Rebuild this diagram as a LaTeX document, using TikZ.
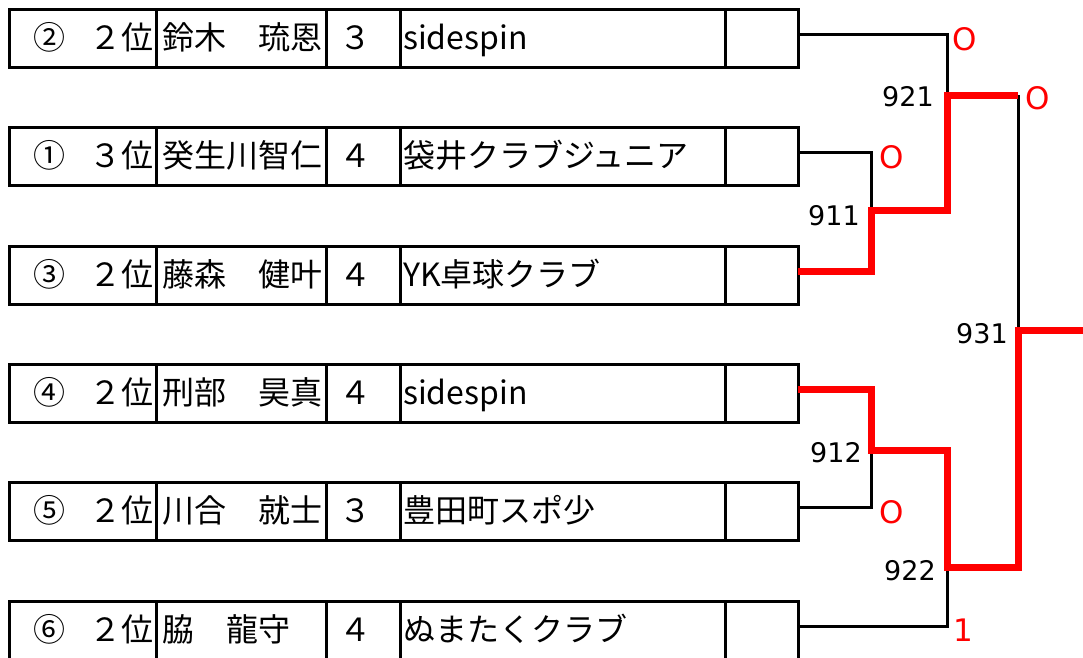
\documentclass[tikz,border=0pt]{standalone}
\usepackage{fontspec}
\setmainfont{Noto Sans CJK JP}
\newfontfamily\numfont{DejaVu Sans}
\usepackage{tikz}
\definecolor{red500}{HTML}{FF0000}
\tikzstyle{cell}=[rectangle, draw=black, line width=3pt, minimum height=58pt, inner sep=0pt, outer sep=0pt, anchor=north west, text height=27pt, text depth=5pt, font=\fontsize{32}{36}\selectfont]
\tikzstyle{loser}=[draw=black, line width=3pt]
\tikzstyle{winner}=[draw=red500, line width=7pt]
\tikzstyle{score}=[text=red500, inner sep=0pt, font=\numfont\fontsize{31}{34}\selectfont]
\tikzstyle{match}=[inner sep=0pt, font=\numfont\fontsize{27}{30}\selectfont]

\begin{document}
\begin{tikzpicture}[x=1pt, y=-1pt]
			\clip (0,0) rectangle (1083,657);
			\foreach \i/\y/\seed/\name/\grade/\team in {
				1/9.5/②/鈴木　琉恩/３/sidespin,
				2/127.8/①/癸生川智仁/４/袋井クラブジュニア,
				3/246/③/藤森　健叶/４/YK卓球クラブ,
				4/364.5/④/刑部　昊真/４/sidespin,
				5/482.7/⑤/川合　就士/３/豊田町スポ少,
				6/601/⑥/脇　龍守/４/ぬまたくクラブ}{
				\node[cell, minimum width=147pt, text width=141pt, align=right] (s\i) at (9.5,\y) {\seed\hspace{24pt}\ifnum\i=2 ３\else ２\fi 位};
				\node[cell, minimum width=169.5pt, text width=157pt, align=left] (n\i) at (156.5,\y) {\name};
				\node[cell, minimum width=74pt, text width=48pt, align=left] (g\i) at (326,\y) {\grade};
				\node[cell, minimum width=325.3pt, text width=319pt, align=left] (t\i) at (400,\y) {\team};
				\node[cell, minimum width=72.7pt] (b\i) at (725.3,\y) {};
			}
			\coordinate (m911) at (871,210);
			\coordinate (m912) at (871,450);
			\coordinate (m921) at (947,95);
			\coordinate (m922) at (947,567);
			\coordinate (m931) at (1018,330);
			\coordinate (champ) at (1095,330);
			\path[loser]
				([yshift=4pt]b1.east) -| (m921)
				([yshift=4pt]b2.east) -| (m911)
				([yshift=4pt]b5.east) -| (m912)
				([yshift=4pt]b6.east) -| (m922)
				(m921 -| m931) -- (m931);
			\path[winner]
				([yshift=4pt]b3.east) -| (m911) -| (m921) -- (m921 -| m931)
				([yshift=4pt]b4.east) -| (m912) -| (m922) -| (m931) -- (champ);
			\node[match] (l921) at (908,97) {921};
			\node[match] (l911) at (834,216) {911};
			\node[match] (l931) at (982,334) {931};
			\node[match] (l912) at (836,453) {912};
			\node[match] (l922) at (910,571) {922};
			\node[score] (sc1) at (965,39) {O};
			\node[score] (sc2) at (892,157) {O};
			\node[score] (sc921) at (1038,98) {O};
			\node[score] (sc5) at (892,512) {O};
			\node[score] (sc6) at (963,630) {1};
		\end{tikzpicture}
\end{document}
